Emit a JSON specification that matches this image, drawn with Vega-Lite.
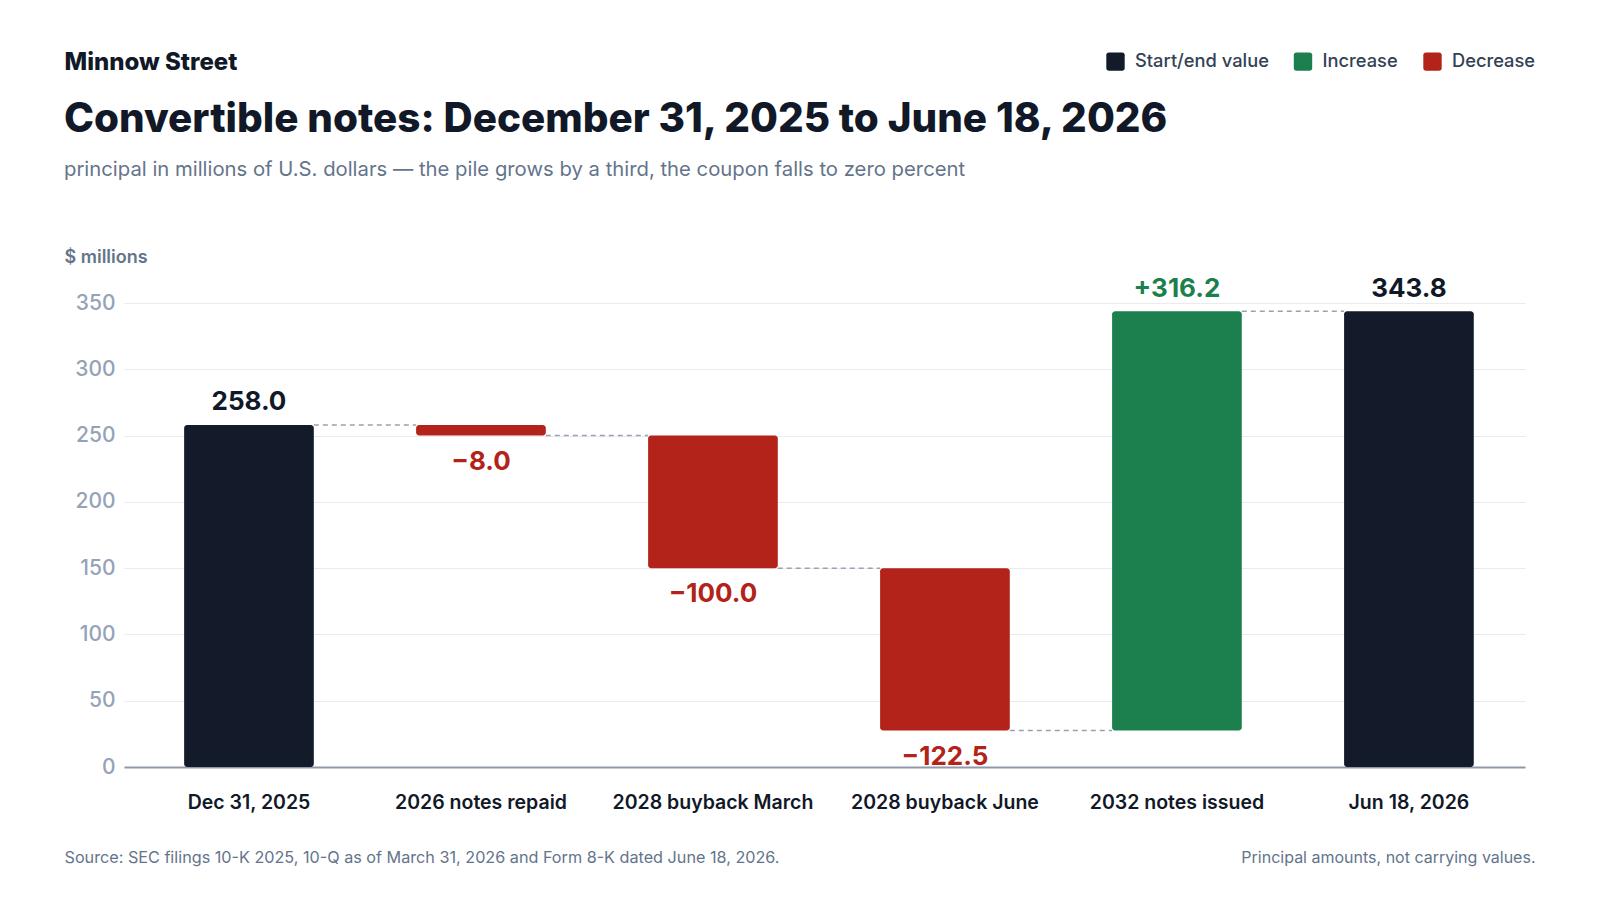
{
  "$schema": "https://vega.github.io/schema/vega-lite/v6.json",
  "width": 1401,
  "height": 464,
  "autosize": {"type": "none"},
  "padding": {"left": 124, "top": 303, "right": 75, "bottom": 133},
  "background": "#ffffff",
  "config": {
    "font": "Inter",
    "view": {"stroke": null},
    "axis": {"labelFont": "Inter", "titleFont": "Inter"},
    "legend": {"labelFont": "Inter", "titleFont": "Inter"}
  },
  "title": {
    "text": "Convertible notes: December 31, 2025 to June 18, 2026",
    "subtitle": "principal in millions of U.S. dollars — the pile grows by a third, the coupon falls to zero percent",
    "anchor": "start",
    "frame": "bounds",
    "offset": -130,
    "font": "Inter",
    "fontSize": 40.4,
    "fontWeight": 800,
    "color": "#111827",
    "subtitleFont": "Inter",
    "subtitleFontSize": 20.3,
    "subtitleColor": "#64748b",
    "subtitlePadding": 19
  },
  "data": {
    "values": [
      {"step": "Dec 31, 2025", "next": "2026 notes repaid", "kind": "Start/end value", "base": 0, "top": 258.0, "level": 258.0, "label": "258.0"},
      {"step": "2026 notes repaid", "next": "2028 buyback March", "kind": "Decrease", "base": 250.0, "top": 258.0, "level": 250.0, "label": "−8.0"},
      {"step": "2028 buyback March", "next": "2028 buyback June", "kind": "Decrease", "base": 150.0, "top": 250.0, "level": 150.0, "label": "−100.0"},
      {"step": "2028 buyback June", "next": "2032 notes issued", "kind": "Decrease", "base": 27.5, "top": 150.0, "level": 27.5, "label": "−122.5"},
      {"step": "2032 notes issued", "next": "Jun 18, 2026", "kind": "Increase", "base": 27.5, "top": 343.8, "level": 343.8, "label": "+316.2"},
      {"step": "Jun 18, 2026", "next": null, "kind": "Start/end value", "base": 0, "top": 343.8, "level": null, "label": "343.8"}
    ]
  },
  "layer": [
    {
      "transform": [{"filter": "datum.next != null"}],
      "mark": {"type": "rule", "color": "#9aa1b1", "strokeWidth": 1.5, "strokeDash": [5, 4]},
      "encoding": {
        "x": {
          "field": "step", "type": "nominal", "bandPosition": 1,
          "scale": {"domain": ["Dec 31, 2025", "2026 notes repaid", "2028 buyback March", "2028 buyback June", "2032 notes issued", "Jun 18, 2026"], "paddingInner": 0.441, "paddingOuter": 0.24, "align": 0.54},
          "axis": {
            "orient": "top", "title": "Minnow Street", "titleX": -60, "titleY": -241,
            "titleAlign": "left", "titleAnchor": "start", "titleBaseline": "middle",
            "titleFontSize": 24, "titleFontWeight": 800, "titleColor": "#111827",
            "labels": false, "ticks": false, "domain": false, "grid": false
          }
        },
        "x2": {"field": "next", "bandPosition": 0},
        "y": {
          "field": "level", "type": "quantitative",
          "scale": {"domain": [0, 350], "nice": false},
          "axis": {
            "orient": "right", "title": "Principal amounts, not carrying values.",
            "titleAngle": 0, "titleX": 10, "titleY": 554, "titleAlign": "right", "titleBaseline": "middle",
            "titleFontSize": 16, "titleFontWeight": 400, "titleColor": "#64748b",
            "labels": false, "ticks": false, "domain": false, "grid": false
          }
        }
      }
    },
    {
      "mark": {"type": "bar", "cornerRadius": 3},
      "encoding": {
        "x": {
          "field": "step", "type": "nominal",
          "scale": {"domain": ["Dec 31, 2025", "2026 notes repaid", "2028 buyback March", "2028 buyback June", "2032 notes issued", "Jun 18, 2026"], "paddingInner": 0.441, "paddingOuter": 0.24, "align": 0.54},
          "axis": {
            "orient": "bottom",
            "title": "Source: SEC filings 10-K 2025, 10-Q as of March 31, 2026 and Form 8-K dated June 18, 2026.",
            "titleX": -60, "titleY": 90, "titleAlign": "left", "titleAnchor": "start", "titleBaseline": "middle",
            "titleFontSize": 16.2, "titleFontWeight": 400, "titleColor": "#64748b",
            "labelAngle": 0, "labelFontSize": 19.5, "labelFontWeight": 600, "labelColor": "#111827", "labelPadding": 26, "labelLimit": 400,
            "ticks": false, "domain": true, "domainColor": "#8f98aa", "domainWidth": 2, "grid": false
          }
        },
        "y": {
          "field": "top", "type": "quantitative",
          "scale": {"domain": [0, 350], "nice": false},
          "axis": {
            "orient": "left", "title": "$ millions", "titleAngle": 0, "titleAlign": "left", "titleBaseline": "middle",
            "titleX": -60, "titleY": -46, "titleFontSize": 18, "titleFontWeight": 600, "titleColor": "#64748b",
            "values": [0, 50, 100, 150, 200, 250, 300, 350],
            "labelFontSize": 21, "labelFontWeight": 500, "labelColor": "#94a3b8", "labelPadding": 9,
            "ticks": false, "domain": false, "grid": true, "gridColor": "#e8ebf0", "gridWidth": 1
          }
        },
        "y2": {"field": "base"},
        "color": {
          "field": "kind", "type": "nominal",
          "scale": {"domain": ["Start/end value", "Increase", "Decrease"], "range": ["#131a2a", "#1b804d", "#b3231a"]},
          "legend": {
            "orient": "none", "legendX": 982, "legendY": -251, "direction": "horizontal", "title": null,
            "symbolType": "M-0.7,-1H0.7Q1,-1 1,-0.7V0.7Q1,1 0.7,1H-0.7Q-1,1 -1,0.7V-0.7Q-1,-1 -0.7,-1Z",
            "symbolSize": 338, "symbolStrokeWidth": 0, "symbolOpacity": 1,
            "labelFontSize": 18.3, "labelFontWeight": 500, "labelColor": "#334155",
            "labelOffset": 10, "columnPadding": 24.5
          }
        }
      }
    },
    {
      "transform": [{"filter": "datum.kind != 'Decrease'"}],
      "mark": {"type": "text", "baseline": "bottom", "dy": -9.5, "fontSize": 26, "fontWeight": 700, "font": "Inter"},
      "encoding": {
        "x": {"field": "step", "type": "nominal", "axis": null,
          "scale": {"domain": ["Dec 31, 2025", "2026 notes repaid", "2028 buyback March", "2028 buyback June", "2032 notes issued", "Jun 18, 2026"], "paddingInner": 0.441, "paddingOuter": 0.24, "align": 0.54}},
        "y": {"field": "top", "type": "quantitative", "axis": null, "scale": {"domain": [0, 350], "nice": false}},
        "text": {"field": "label"},
        "fill": {
          "field": "kind", "type": "nominal", "legend": null,
          "scale": {"domain": ["Start/end value", "Increase", "Decrease"], "range": ["#111827", "#1b804d", "#b3231a"]}
        }
      }
    },
    {
      "transform": [{"filter": "datum.kind == 'Decrease'"}],
      "mark": {"type": "text", "baseline": "top", "dy": 13, "fontSize": 26, "fontWeight": 700, "font": "Inter"},
      "encoding": {
        "x": {"field": "step", "type": "nominal", "axis": null,
          "scale": {"domain": ["Dec 31, 2025", "2026 notes repaid", "2028 buyback March", "2028 buyback June", "2032 notes issued", "Jun 18, 2026"], "paddingInner": 0.441, "paddingOuter": 0.24, "align": 0.54}},
        "y": {"field": "base", "type": "quantitative", "axis": null, "scale": {"domain": [0, 350], "nice": false}},
        "text": {"field": "label"},
        "fill": {
          "field": "kind", "type": "nominal", "legend": null,
          "scale": {"domain": ["Start/end value", "Increase", "Decrease"], "range": ["#111827", "#1b804d", "#b3231a"]}
        }
      }
    }
  ],
  "resolve": {"axis": {"x": "independent", "y": "independent"}}
}
